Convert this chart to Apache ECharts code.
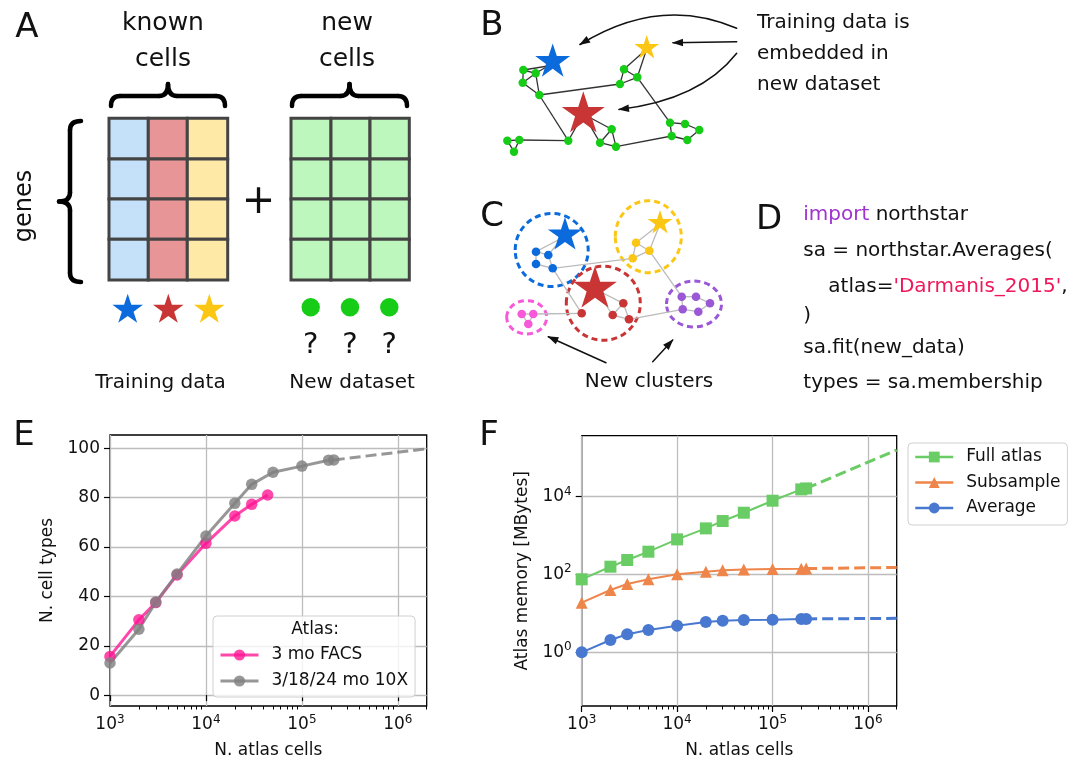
<!DOCTYPE html>
<html><head><meta charset="utf-8">
<script src="https://cdn.jsdelivr.net/npm/echarts@6/dist/echarts.min.js"></script>
<style>html,body{margin:0;padding:0;background:#fff}#c{width:1077px;height:760px}</style>
</head><body><div id="c"></div>
<script>
// ---------- Panel E data ----------
const eFacsX = [1000, 2000, 3000, 5000, 10000, 20000, 30000, 44000];
const eFacsY = [15.7, 30.5, 37.5, 48.7, 61.5, 72.6, 77.3, 81.1];
const e10xX = [1000, 2000, 3000, 5000, 10000, 20000, 30000, 50000, 100000, 190000, 215000];
const e10xY = [13.0, 26.7, 37.7, 49.1, 64.5, 77.7, 85.4, 90.3, 92.8, 95.2, 95.3];
const e10xExtX = [215000, 2000000];
const e10xExtY = [95.3, 99.8];
// ---------- Panel F data ----------
const fX = [1000, 2000, 3000, 5000, 10000, 20000, 30000, 50000, 100000, 200000, 225000];
const fFull = [74.5, 157, 233, 381, 789, 1510, 2330, 3810, 7740, 15100, 16000];
const fSub = [18.8, 39.7, 56.5, 74.5, 100, 117, 127, 134, 137, 140, 141];
const fAvg = [1.0, 2.07, 2.9, 3.74, 4.83, 6.0, 6.48, 6.75, 6.88, 7.16, 7.2];
const fExtX = [225000, 2000000];
const fFullExt = [16000, 154000];
const fSubExt = [141, 150];
const fAvgExt = [7.2, 7.45];
// ---------- ticks ----------
const eYTicks = [0, 20, 40, 60, 80, 100];
const xMajorTicks = [1e3, 1e4, 1e5, 1e6];
const xMinorTicks = [2e3,3e3,4e3,5e3,6e3,7e3,8e3,9e3,2e4,3e4,4e4,5e4,6e4,7e4,8e4,9e4,2e5,3e5,4e5,5e5,6e5,7e5,8e5,9e5,2e6];
const fYTicks = [1, 100, 10000];
// ---------- legend names ----------
const eNames = ['3 mo FACS', '3/18/24 mo 10X'];
const fNames = ['Full atlas', 'Subsample', 'Average'];

const FONT = 'DejaVu Sans';
const INK = '#111';
const zip = (xs, ys) => xs.map((x, i) => [x, ys[i]]);

// ---------- diagram helpers (panels A-D) ----------
const G = [];
function txt(x, y, s, fs, o) {
  o = o || {};
  G.push({type: 'text', x: x, y: y, rotation: o.rot || 0, z: 10,
    style: {text: s, fontSize: fs, fontFamily: FONT, fill: o.fill || INK,
      align: o.align || 'center', verticalAlign: 'middle', rich: o.rich}});
}
function line(x1, y1, x2, y2, stroke, w, cap) {
  G.push({type: 'line', z: 5, shape: {x1, y1, x2, y2}, style: {stroke, lineWidth: w, lineCap: cap || 'butt'}});
}
function quad(x1, y1, cx, cy, x2, y2, stroke, w) {
  G.push({type: 'bezierCurve', z: 5, shape: {x1, y1, x2, y2, cpx1: cx, cpy1: cy},
    style: {stroke, lineWidth: w, fill: null, lineCap: 'round'}});
}
function dot(cx, cy, r, fill) { G.push({type: 'circle', z: 6, shape: {cx, cy, r}, style: {fill}}); }
function star(cx, cy, R, fill) {
  const pts = [];
  for (let i = 0; i < 10; i++) {
    const a = -Math.PI / 2 + i * Math.PI / 5, rr = i % 2 ? R * 0.382 : R;
    pts.push([cx + rr * Math.cos(a), cy + rr * Math.sin(a)]);
  }
  G.push({type: 'polygon', z: 7, shape: {points: pts}, style: {fill}});
}
function ring(cx, cy, rx, ry, stroke) {
  G.push({type: 'ellipse', z: 4, shape: {cx, cy, rx, ry},
    style: {fill: null, stroke, lineWidth: 3, lineDash: [6, 4]}});
}
function arrow(x1, y1, cx, cy, x2, y2) {
  quad(x1, y1, cx, cy, x2, y2, '#111', 1.5);
  let dx = x2 - cx, dy = y2 - cy; const L = Math.hypot(dx, dy); dx /= L; dy /= L;
  const hl = 10, hw = 3.8, bx = x2 - dx * hl, by = y2 - dy * hl;
  G.push({type: 'polygon', z: 8, shape: {points: [[x2 + dx, y2 + dy], [bx - dy * hw, by + dx * hw], [bx + dy * hw, by - dx * hw]]}, style: {fill: '#111'}});
}
// horizontal brace (tip up)
function hBrace(x1, x2, yEnd, yArm, yTip) {
  const xm = (x1 + x2) / 2, r = 9, w = 4.5, c = '#000';
  quad(x1, yEnd, x1, yArm, x1 + r, yArm, c, w);
  line(x1 + r, yArm, xm - r, yArm, c, w, 'round');
  quad(xm - r, yArm, xm, yArm, xm, yTip, c, w);
  quad(xm, yTip, xm, yArm, xm + r, yArm, c, w);
  line(xm + r, yArm, x2 - r, yArm, c, w, 'round');
  quad(x2 - r, yArm, x2, yArm, x2, yEnd, c, w);
}
// vertical brace (tip left)
function vBrace(y1, y2, xEnd, xArm, xTip) {
  const ym = (y1 + y2) / 2, r = 9, w = 4.5, c = '#000';
  quad(xEnd, y1, xArm, y1, xArm, y1 + r, c, w);
  line(xArm, y1 + r, xArm, ym - r, c, w, 'round');
  quad(xArm, ym - r, xArm, ym, xTip, ym, c, w);
  quad(xTip, ym, xArm, ym, xArm, ym + r, c, w);
  line(xArm, ym + r, xArm, y2 - r, c, w, 'round');
  quad(xArm, y2 - r, xArm, y2, xEnd, y2, c, w);
}
function matrix(colsX, rowsY, fills) {
  for (let c = 0; c < colsX.length - 1; c++)
    for (let r = 0; r < rowsY.length - 1; r++)
      G.push({type: 'rect', z: 3, shape: {x: colsX[c], y: rowsY[r], width: colsX[c + 1] - colsX[c], height: rowsY[r + 1] - rowsY[r]},
        style: {fill: fills[c], stroke: '#444', lineWidth: 3}});
}

const BLUE = '#0b6bdc', RED = '#c93535', YEL = '#fcc714', GRN = '#16cc16';
const PINK = '#f75ad8', PURP = '#9a57d6';

// ----- Panel A -----
txt(27, 28, 'A', 34);
txt(163, 23, 'known', 25); txt(163, 59, 'cells', 25);
txt(347, 23, 'new', 25); txt(347, 59, 'cells', 25);
hBrace(111, 225, 106, 96, 84);
hBrace(292, 407, 106, 96, 84);
vBrace(121, 282, 81, 70, 59);
txt(25, 206, 'genes', 24, {rot: Math.PI / 2});
const rowsA = [118.3, 159, 199, 239.3, 280];
matrix([109, 148.3, 187.3, 227.7], rowsA, ['#c5e1fa', '#e89597', '#fee9a6']);
matrix([291, 331, 370, 409.3], rowsA, ['#bdf7bd', '#bdf7bd', '#bdf7bd']);
txt(258.5, 203, '+', 40);
star(127.7, 309.8, 16.1, BLUE); star(168.3, 309.8, 16.1, RED); star(209.3, 309.8, 16.1, YEL);
[310.7, 350, 389.3].forEach(x => { dot(x, 307.3, 9.2, GRN); txt(x, 345, '?', 29); });
txt(160.5, 383, 'Training data', 20); txt(352, 383, 'New dataset', 20);

// ----- Panel B -----
txt(492, 26, 'B', 34);
txt(757, 23, 'Training data is', 20, {align: 'left'});
txt(757, 54, 'embedded in', 20, {align: 'left'});
txt(757, 85, 'new dataset', 20, {align: 'left'});
const nB = {
  n1: [523.3, 70], n2: [535.7, 73.3], n3: [522.7, 82.7], n4: [539.3, 95],
  y1: [624, 69.3], y2: [637.3, 77.3], y3: [620, 84],
  ra: [611.7, 129.3], rb: [600, 142.7], rc: [616, 146.7], rd: [568.3, 140.7],
  l1: [507.3, 140.7], l2: [519.3, 140], l3: [514, 151.7],
  r1: [670, 122.7], r2: [685, 124], r3: [699.3, 130], r4: [671.7, 136], r5: [687.3, 140],
  sb: [548, 66], sy: [646.7, 49], sr: [583.3, 114]
};
[['sb','n1'],['sb','n2'],['n1','n2'],['n1','n3'],['n2','n3'],['n2','n4'],['n3','n4'],
 ['sy','y1'],['sy','y2'],['y1','y2'],['y1','y3'],['y2','y3'],['n4','y3'],['y2','r1'],
 ['sr','ra'],['sr','rb'],['ra','rb'],['ra','rc'],['rb','rc'],['n4','rd'],['rd','l2'],['sr','rd'],
 ['l1','l2'],['l1','l3'],['l2','l3'],['r1','r2'],['r2','r3'],['r3','r5'],['r5','r4'],['r4','r1'],['r4','rc']
].forEach(([a, b]) => line(nB[a][0], nB[a][1], nB[b][0], nB[b][1], '#333', 1.3));
Object.keys(nB).forEach(k => { if (k[0] !== 's') dot(nB[k][0], nB[k][1], 4.2, GRN); });
star(552.7, 61.8, 18.4, BLUE); star(646.7, 47.9, 13, YEL); star(583.3, 113.9, 22.6, RED);
arrow(736.7, 28.3, 660, -5, 580, 44.5);
arrow(736.7, 41.7, 705, 42.2, 673, 42.7);
arrow(736.7, 53.3, 700, 100, 619, 109.5);

// ----- Panel C -----
txt(492, 217, 'C', 34);
const nC = {
  b1: [536, 251.7], b2: [548.3, 255], b3: [536, 264], b4: [552.7, 268.3],
  y1: [636, 242.7], y2: [649.3, 250.7], y3: [632.7, 258.3],
  ra: [623.3, 303.3], rb: [612.7, 315], rc: [629, 319.3], rd: [581.7, 313.3],
  p1: [521.7, 314], p2: [533.3, 314], p3: [528.3, 324],
  q1: [681.7, 296.7], q2: [696, 296.7], q3: [710, 303.3], q4: [682.7, 309.3], q5: [698.3, 311.7],
  sb: [562, 238], sy: [660, 224], sr: [595, 289]
};
const cCol = {b: BLUE, y: YEL, r: RED, p: PINK, q: PURP};
[['sb','b1'],['sb','b2'],['b1','b2'],['b1','b3'],['b2','b4'],['b3','b4'],
 ['sy','y1'],['sy','y2'],['y1','y2'],['y1','y3'],['y2','y3'],
 ['sr','ra'],['sr','rb'],['ra','rb'],['ra','rc'],['rb','rc'],
 ['p1','p2'],['p1','p3'],['p2','p3'],
 ['q1','q2'],['q2','q3'],['q3','q5'],['q5','q4'],['q4','q1'],
 ['b4','y3'],['b4','rd'],['rd','p2'],['rc','q4'],['y2','q1']
].forEach(([a, b]) => line(nC[a][0], nC[a][1], nC[b][0], nC[b][1], '#bbbbbb', 1.3));
ring(551.7, 250, 36.5, 36.5, BLUE);
ring(648.3, 236.7, 33, 36, YEL);
ring(603.3, 303.3, 37, 37, RED);
ring(526.7, 317.3, 20, 16.7, PINK);
ring(694, 304, 27.5, 23, PURP);
Object.keys(nC).forEach(k => { if (k[0] !== 's') dot(nC[k][0], nC[k][1], 4.3, cCol[k[0]]); });
star(565, 235, 18, BLUE); star(660, 222.9, 13, YEL); star(595, 288.9, 23, RED);
arrow(606, 362.7, 577, 349.7, 548.3, 336.7);
arrow(652.7, 361.7, 662.7, 350.8, 672.7, 340);
txt(649, 382, 'New clusters', 20);

// ----- Panel D -----
txt(769, 220, 'D', 34);
const codeRich = {p: {fill: '#a033cf', fontSize: 20, fontFamily: FONT}, r: {fill: '#f0185a', fontSize: 20, fontFamily: FONT}};
txt(803.3, 215, '{p|import} northstar', 20, {align: 'left', rich: codeRich});
txt(803.3, 251, 'sa = northstar.Averages(', 20, {align: 'left'});
txt(828.3, 286.5, "atlas={r|'Darmanis_2015'},", 20, {align: 'left', rich: codeRich});
txt(803.3, 316, ')', 20, {align: 'left'});
txt(803.3, 348, 'sa.fit(new_data)', 20, {align: 'left'});
txt(803.3, 383, 'types = sa.membership', 20, {align: 'left'});

// ----- Panel letters E/F and legend title -----
txt(24, 436, 'E', 34);
txt(489, 436, 'F', 34);
txt(315, 630, 'Atlas:', 17);

// ---------- axes ----------
const supRich = {
  b: {fontSize: 17, lineHeight: 22, fontFamily: FONT, color: INK},
  s: {fontSize: 12, lineHeight: 12, verticalAlign: 'top', fontFamily: FONT, color: INK}
};
const supFmt = v => '{b|10}{s|' + Math.round(Math.log10(v)) + '}';
const splitL = {show: true, lineStyle: {color: '#bdbdbd', width: 1.3}};
function logX(grid, minor) {
  return {
    type: 'log', logBase: 10, gridIndex: grid, min: 1000, max: 2000000, position: 'bottom', offset: 0,
    axisLine: {show: false},
    axisTick: {show: true, inside: false, length: minor ? 3.5 : 6, customValues: minor ? xMinorTicks : xMajorTicks,
      lineStyle: {color: '#000', width: minor ? 1 : 1.2}},
    axisLabel: minor ? {show: false} : {show: true, customValues: xMajorTicks, formatter: supFmt, rich: supRich, margin: 8},
    splitLine: minor ? {show: false} : splitL,
    name: minor ? '' : 'N. atlas cells', nameLocation: 'middle', nameGap: 36,
    nameTextStyle: {fontSize: 17, color: INK, fontFamily: FONT}
  };
}

const lineS = (name, xi, yi, data, color, sym, size, w, op) => ({
  name, type: 'line', xAxisIndex: xi, yAxisIndex: yi, data, symbol: sym, symbolSize: size,
  lineStyle: {color, width: w, opacity: op}, itemStyle: {color, opacity: op},
  emphasis: {disabled: true}, clip: true
});
const dashS = (name, xi, yi, data, color, w, op) => ({
  name, type: 'line', xAxisIndex: xi, yAxisIndex: yi, data, symbol: 'none',
  lineStyle: {color, width: w, type: [11, 5], opacity: op}, itemStyle: {color},
  emphasis: {disabled: true}
});

const C_PINK = '#ff1493', C_GRAY = '#808080';
const C_G = '#6acc64', C_O = '#ee854a', C_B = '#4878d0';

const option = {
  animation: false,
  textStyle: {fontFamily: FONT},
  grid: [
    {left: 110, top: 435, width: 316.7, height: 271, show: true, borderColor: '#000', borderWidth: 1.3, containLabel: false},
    {left: 581.7, top: 435.7, width: 315, height: 270.3, show: true, borderColor: '#000', borderWidth: 1.3, containLabel: false}
  ],
  xAxis: [logX(0, false), logX(0, true), logX(1, false), logX(1, true)],
  yAxis: [
    {type: 'value', gridIndex: 0, min: -4.4, max: 105.4,
      axisLine: {show: false},
      axisTick: {show: true, length: 6, customValues: eYTicks, lineStyle: {color: '#000', width: 1.2}},
      axisLabel: {customValues: eYTicks, fontSize: 17, color: INK, fontFamily: FONT, margin: 10},
      splitLine: splitL,
      name: 'N. cell types', nameLocation: 'middle', nameRotate: 90, nameGap: 54,
      nameTextStyle: {fontSize: 17, color: INK, fontFamily: FONT}},
    {type: 'log', logBase: 10, gridIndex: 1, min: 0.042, max: 360000,
      axisLine: {show: false},
      axisTick: {show: true, length: 6, customValues: fYTicks, lineStyle: {color: '#000', width: 1.2}},
      axisLabel: {customValues: fYTicks, formatter: supFmt, rich: supRich, margin: 10},
      splitLine: splitL,
      name: 'Atlas memory [MBytes]', nameLocation: 'middle', nameRotate: 90, nameGap: 51,
      nameTextStyle: {fontSize: 17, color: INK, fontFamily: FONT}}
  ],
  legend: [
    {data: eNames, orient: 'vertical', left: 213, top: 616, padding: [30.5, 7, 7.5, 6], itemGap: 9,
      itemWidth: 38, itemHeight: 14, selectedMode: false,
      textStyle: {fontSize: 17, color: INK, fontFamily: FONT, padding: [0, 0, 0, 8]},
      lineStyle: {width: 3}, backgroundColor: 'rgba(255,255,255,0.8)', borderColor: '#d0d0d0', borderWidth: 1, borderRadius: 4},
    {data: fNames, orient: 'vertical', left: 908, top: 443, padding: [5.5, 7, 8.5, 6], itemGap: 8.5,
      itemWidth: 38, itemHeight: 13.5, selectedMode: false,
      textStyle: {fontSize: 17, color: INK, fontFamily: FONT, padding: [0, 0, 0, 8]},
      lineStyle: {width: 2.5}, backgroundColor: 'rgba(255,255,255,0.8)', borderColor: '#d0d0d0', borderWidth: 1, borderRadius: 4}
  ],
  series: [
    lineS(eNames[0], 0, 0, zip(eFacsX, eFacsY), C_PINK, 'circle', 11.5, 3, 0.78),
    lineS(eNames[1], 0, 0, zip(e10xX, e10xY), C_GRAY, 'circle', 11.5, 3, 0.82),
    dashS('10X extrapolation', 0, 0, zip(e10xExtX, e10xExtY), C_GRAY, 3, 0.82),
    lineS(fNames[0], 2, 1, zip(fX, fFull), C_G, 'rect', 12, 2, 1),
    lineS(fNames[1], 2, 1, zip(fX, fSub), C_O, 'triangle', 12, 2, 1),
    lineS(fNames[2], 2, 1, zip(fX, fAvg), C_B, 'circle', 12, 2, 1),
    dashS('Full extrapolation', 2, 1, zip(fExtX, fFullExt), C_G, 3, 1),
    dashS('Subsample extrapolation', 2, 1, zip(fExtX, fSubExt), C_O, 3, 1),
    dashS('Average extrapolation', 2, 1, zip(fExtX, fAvgExt), C_B, 3, 1)
  ],
  graphic: {elements: G}
};
const chart = echarts.init(document.getElementById('c'), null, {renderer: 'canvas'});
chart.setOption(option);
</script>
</body></html>
